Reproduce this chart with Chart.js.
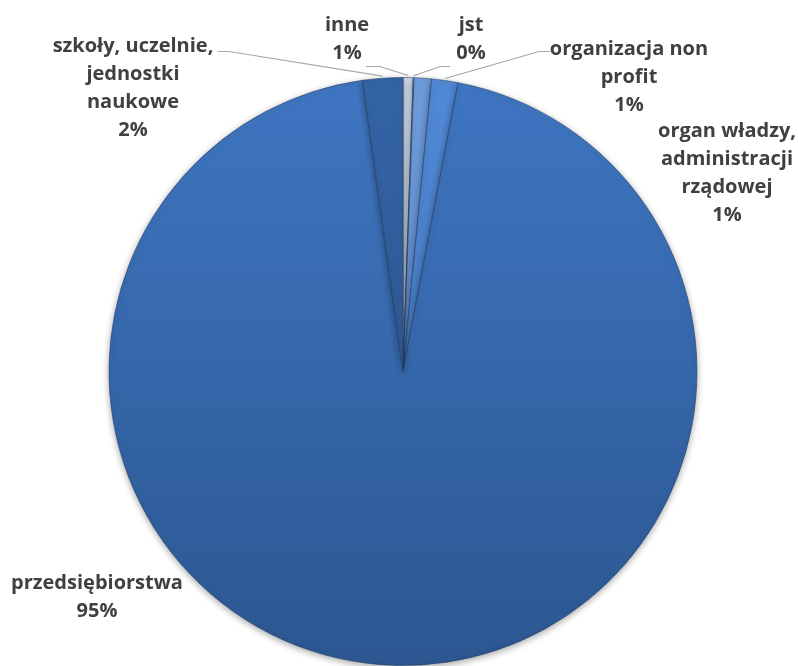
<!DOCTYPE html>
<html>
<head>
<meta charset="utf-8">
<script src="https://cdn.jsdelivr.net/npm/chart.js@4"></script>
<style>
  html, body { margin: 0; padding: 0; background: #ffffff; }
  #pie { display: block; }
</style>
</head>
<body>
<canvas id="pie" width="798" height="666"></canvas>
<script>
// Categories (clockwise from 12 o'clock), label lines as drawn
let categories = [
    [ 'inne' ],
    [ 'jst' ],
    [ 'organ władzy,', 'administracji', 'rządowej' ],
    [ 'organizacja non', 'profit' ],
    [ 'przedsiębiorstwa' ],
    [ 'szkoły, uczelnie,', 'jednostki', 'naukowe' ]
];
// Share of each category, in %
let shares = [ 0.55, 0.05, 0.95, 1.45, 94.8, 2.2 ];
// Percent labels as printed
let shareLabels = [ '1%', '0%', '1%', '1%', '95%', '2%' ];

// Slice fills, top -> bottom
let topColors = [ '#d4dfef', '#abc2e6', '#6f9ddc', '#5189d5', '#3f76c2', '#3464a6' ];
let bottomColors = [ '#b9cae4', '#90acd9', '#4f7fc4', '#3d6fb6', '#2c5791', '#2a4f86' ];

// Label block placement, offset from pie centre (x centre, first line middle y)
let labelSpots = [ [ -56, -346 ], [ 68, -346 ], [ 324, -240 ], [ 226, -322 ], [ -306, 212 ], [ -270, -325 ] ];
// Leader line start and elbow, offset from pie centre (null = no leader)
let leaderSpots = [
    [ [ -37, -305 ], [ -23, -305 ] ],
    [ [ 47, -305 ], [ 37, -305 ] ],
    null,
    [ [ 147, -320 ], [ 136, -320 ] ],
    null,
    [ [ -185, -320 ], [ -174, -320 ] ]
];

let lineGap = 28;

function sliceFill ( context )
{
    let chart = context.chart;
    let area = chart.chartArea;
    if ( !area ) return topColors[ context.dataIndex ];
    let g = chart.ctx.createLinearGradient( 0, area.top, 0, area.bottom );
    g.addColorStop( 0, topColors[ context.dataIndex ] );
    g.addColorStop( 1, bottomColors[ context.dataIndex ] );
    return g;
}

// soft shadow under the pie
let shadowPlugin = {
    id: 'pieShadow',
    beforeDatasetsDraw ( chart )
    {
        let c = chart.ctx;
        c.save();
        c.shadowColor = 'rgba(0,0,0,0.35)';
        c.shadowBlur = 7;
        c.shadowOffsetY = 2;
    },
    afterDatasetsDraw ( chart )
    {
        chart.ctx.restore();
    }
};

// labels with leader lines, drawn like the original
let labelPlugin = {
    id: 'sliceLabels',
    afterDraw ( chart )
    {
        let c = chart.ctx;
        let meta = chart.getDatasetMeta( 0 );
        c.save();
        meta.data.forEach( function ( arc, i )
        {
            let cx = arc.x, cy = arc.y, r = arc.outerRadius;
            let lead = leaderSpots[ i ];
            if ( lead )
            {
                let mid = ( arc.startAngle + arc.endAngle ) / 2;
                c.strokeStyle = '#a6a6a6';
                c.lineWidth = 1.2;
                c.beginPath();
                c.moveTo( cx + lead[ 0 ][ 0 ], cy + lead[ 0 ][ 1 ] );
                c.lineTo( cx + lead[ 1 ][ 0 ], cy + lead[ 1 ][ 1 ] );
                c.lineTo( cx + Math.cos( mid ) * ( r + 2 ), cy + Math.sin( mid ) * ( r + 2 ) );
                c.stroke();
            }
            let lines = categories[ i ].concat( [ shareLabels[ i ] ] );
            let spot = labelSpots[ i ];
            c.fillStyle = '#404040';
            c.font = 'bold 20px "Open Sans"';
            c.textAlign = 'center';
            c.textBaseline = 'middle';
            lines.forEach( function ( t, k )
            {
                c.fillText( t, cx + spot[ 0 ], cy + spot[ 1 ] + k * lineGap );
            } );
        } );
        c.restore();
    }
};

let ctx = document.getElementById( 'pie' ).getContext( '2d' );
let chart = new Chart( ctx, {
    type: 'pie',
    data: {
        labels: categories,
        datasets: [ {
            data: shares,
            backgroundColor: sliceFill,
            borderColor: 'rgba(35,60,100,0.55)',
            borderWidth: 1
        } ]
    },
    options: {
        responsive: false,
        animation: false,
        layout: { padding: { top: 77, left: 8, right: 0, bottom: 0 } },
        plugins: {
            legend: { display: false },
            tooltip: { enabled: false }
        }
    },
    plugins: [ shadowPlugin, labelPlugin ]
} );
</script>
</body>
</html>
